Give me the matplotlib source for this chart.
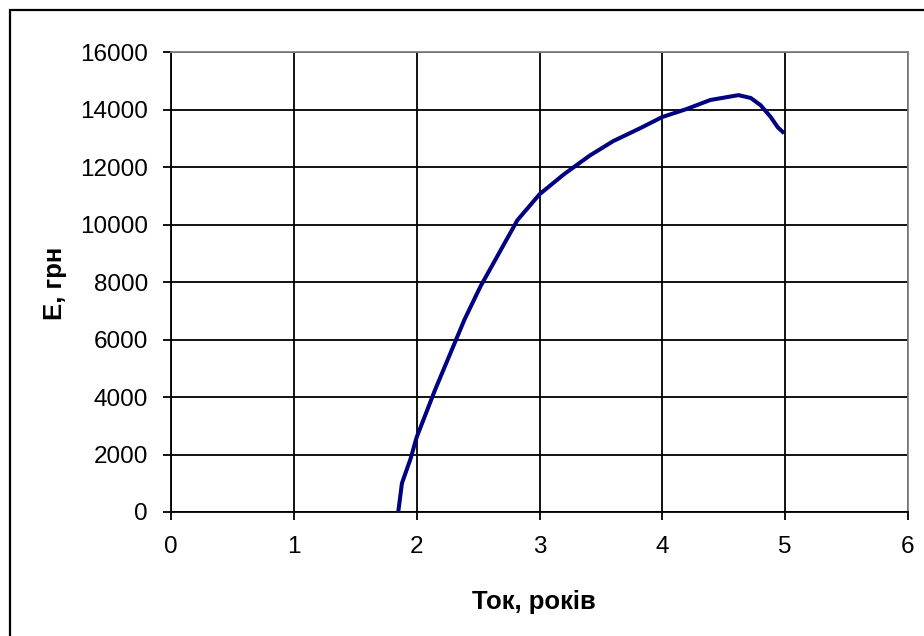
import matplotlib
matplotlib.use("Agg")
import matplotlib.pyplot as plt
from matplotlib.patches import Rectangle

# строк окупності та ефект
tok = [1.85, 1.88, 1.95, 2.0, 2.15, 2.39, 2.52, 2.82, 3.0, 3.2, 3.41,
       3.6, 3.82, 4.0, 4.2, 4.39, 4.62, 4.72, 4.8, 4.88, 4.94, 4.98]
e_grn = [0, 1000, 1850, 2600, 4250, 6700, 7850, 10150, 11050, 11750, 12400,
         12900, 13350, 13740, 14020, 14330, 14500, 14400, 14150, 13750, 13380, 13220]

x_ticks = [0, 1, 2, 3, 4, 5, 6]
y_ticks = [0, 2000, 4000, 6000, 8000, 10000, 12000, 14000, 16000]

plt.rcParams["font.family"] = ["Liberation Sans", "DejaVu Sans"]

W, H = 924, 636
fig = plt.figure(figsize=(W / 100, H / 100), dpi=100)
ax = fig.add_axes([171 / W, 1 - 512 / H, 737 / W, 460 / H])

ax.plot(tok, e_grn, color="#000080", lw=2.9, solid_joinstyle="round", zorder=3)

ax.set_xlim(0, 6)
ax.set_ylim(0, 16000)
ax.set_xticks(x_ticks)
ax.set_yticks(y_ticks)
ax.grid(True, color="black", lw=1.3)
ax.tick_params(direction="out", length=6, width=1.3, labelsize=17.5, colors="black")
ax.tick_params(axis="x", pad=11)
ax.tick_params(axis="y", pad=10.5)

for side in ("left", "bottom"):
    ax.spines[side].set_color("black")
    ax.spines[side].set_linewidth(1.3)
for side in ("top", "right"):
    ax.spines[side].set_color("#808080")
    ax.spines[side].set_linewidth(1.3)

# підписи осей
fig.text(534 / W, 1 - 602 / H, "Ток, років", fontsize=18.5, fontweight="bold",
         ha="center", va="center")
fig.text(55 / W, 1 - 283 / H, "E, грн", fontsize=18.5, fontweight="bold",
         ha="center", va="center", rotation=90)

# рамка навколо діаграми
fig.patches.append(Rectangle((10 / W, -0.1), 1.2, 1 - 9.5 / H + 0.1,
                             transform=fig.transFigure, fill=False,
                             edgecolor="black", lw=1.6))

fig.savefig("out.png", dpi=100)
